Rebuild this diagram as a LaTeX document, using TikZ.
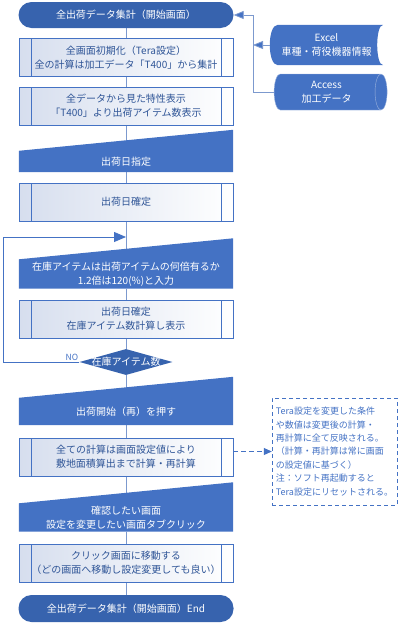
\documentclass[tikz,border=0pt]{standalone}
\usepackage{fontspec}
\setmainfont{Noto Sans CJK JP}
\usepackage{tikz}
\usetikzlibrary{shapes.geometric,arrows.meta,calc,backgrounds}
\definecolor{mblue}{HTML}{4472C4}
\definecolor{tblue}{HTML}{3763AE}
\definecolor{dblue}{HTML}{2F5597}
\definecolor{lblue}{HTML}{D6DEEE}
\definecolor{lnc}{HTML}{7C99CE}
\tikzstyle{every node}=[font=\fontsize{10}{14}\selectfont]
\tikzstyle{term}=[rectangle,rounded corners=13pt,fill=tblue,text=white,minimum width=215pt,minimum height=26pt]
\tikzstyle{proc}=[rectangle,draw=mblue,left color=lblue,right color=white,text=dblue,align=center,
  minimum width=214pt,minimum height=38pt,inner sep=1pt,
  path picture={\draw[mblue] ([xshift=12pt]path picture bounding box.north west) -- ([xshift=12pt]path picture bounding box.south west)
                ([xshift=-12pt]path picture bounding box.north east) -- ([xshift=-12pt]path picture bounding box.south east);}]
\tikzstyle{manual}=[rectangle,text=white,align=center,minimum width=214pt,inner sep=1pt]
\tikzstyle{line}=[draw=lnc,line width=0.8pt]
\tikzstyle{side}=[draw=lnc,line width=0.8pt,-{Triangle[length=10pt,width=8pt,fill=mblue]}]

\begin{document}
\begin{tikzpicture}[x=1pt,y=-1pt]
  \useasboundingbox (0,0) rectangle (400,624);
  \node(st)[term] at (126,15) {全出荷データ集計（開始画面）};
  \node(p1)[proc] at (126,57.5) {全画面初期化（Tera設定）\\全の計算は加工データ「T400」から集計};
  \node(p2)[proc] at (126,106) {全データから見た特性表示\\「T400」より出荷アイテム数表示};
  \node(mi1)[manual,minimum height=21pt] at (126,161.5) {出荷日指定};
  \node(p3)[proc] at (126,202) {出荷日確定};
  \node(mi2)[manual,minimum height=29pt] at (126,274) {在庫アイテムは出荷アイテムの何倍有るか\\1.2倍は120(\%)と入力};
  \node(p4)[proc] at (126,319) {出荷日確定\\在庫アイテム数計算し表示};
  \node(dec)[diamond,fill=tblue,minimum width=93pt,minimum height=26pt,inner sep=0pt,
    label={[text=white]center:在庫アイテム数}] at (126,362) {};
  \node(no)[text=mblue,font=\fontsize{8.5}{9}\selectfont,anchor=south east,inner sep=1pt] at (dec.west) {NO};
  \node(mi3)[manual,minimum height=27pt] at (126,411.5) {出荷開始（再）を押す};
  \node(p5)[proc] at (126,457) {全ての計算は画面設定値により\\敷地面積算出まで計算・再計算};
  \node(mi4)[manual,minimum height=28pt] at (126,517.5) {確認したい画面\\設定を変更したい画面タブクリック};
  \node(p6)[proc] at (126,563) {クリック画面に移動する\\（どの画面へ移動し設定変更しても良い）};
  \node(en)[term,minimum height=27pt] at (126,608.5) {全出荷データ集計（開始画面）End};
  \node(xl)[text=white,align=center,minimum width=113pt,minimum height=40pt,inner sep=1pt] at (326.5,45) {Excel\\車種・荷役機器情報};
  \node(ac)[cylinder,shape border rotate=0,aspect=0.5,fill=mblue,draw=lblue!60!mblue,text=white,align=center,
    minimum width=36pt,minimum height=113pt,inner sep=1pt] at (326.5,92) {Access\\加工データ};
  \node(nt)[draw=mblue,dash pattern=on 4pt off 3pt,text=mblue,align=left,minimum width=125pt,minimum height=107pt,
    inner sep=2.5pt,font=\fontsize{9}{13.4}\selectfont] at (334.5,451.5)
    {Tera設定を変更した条件\\や数値は変更後の計算・\\再計算に全て反映される。\\（計算・再計算は常に画面\\の設定値に基づく）\\注：ソフト再起動すると\\Tera設定にリセットされる。};
  \coordinate(jn) at (253,15);
  \coordinate(lp) at (3,237);
  \begin{scope}[on background layer]
    \fill[mblue] ($(xl.north west)+(8,0)$) .. controls ($(xl.north west)+(-2.7,0)$) and ($(xl.south west)+(-2.7,0)$) .. ($(xl.south west)+(8,0)$)
      -- (xl.south east) .. controls ($(xl.south east)+(-8,0)$) and ($(xl.north east)+(-8,0)$) .. (xl.north east) -- cycle;
    \path[line] (st) edge (p1)
                (p1) edge (p2)
                (p2) edge (mi1)
                (mi1) edge (p3)
                (p3) edge (mi2)
                (mi2) edge (p4)
                (p4) edge (dec)
                (dec) edge (mi3)
                (mi3) edge (p5)
                (p5) edge (mi4)
                (mi4) edge (p6)
                (p6) edge (en);
    \foreach \m in {mi1,mi2,mi3,mi4}
      \fill[mblue] (\m.south west) -- (\m.south east) -- ($(\m.north east)+(0,-21)$) -- (\m.north west) -- cycle;
  \end{scope}
  \draw[side] (ac.west) -| (jn) -- (st.east);
  \draw[side] (xl.west) -- (xl.west -| jn);
  \draw[draw=mblue,line width=0.8pt,-{Triangle[length=12pt,width=10pt]}] (dec.west) -| (lp) -- (lp -| p3);
  \draw[draw=mblue,line width=0.8pt,dash pattern=on 5pt off 3pt,-{Triangle[length=8pt,width=7pt]}] (p5.east |- nt.west) -- (nt.west);
\end{tikzpicture}
\end{document}
